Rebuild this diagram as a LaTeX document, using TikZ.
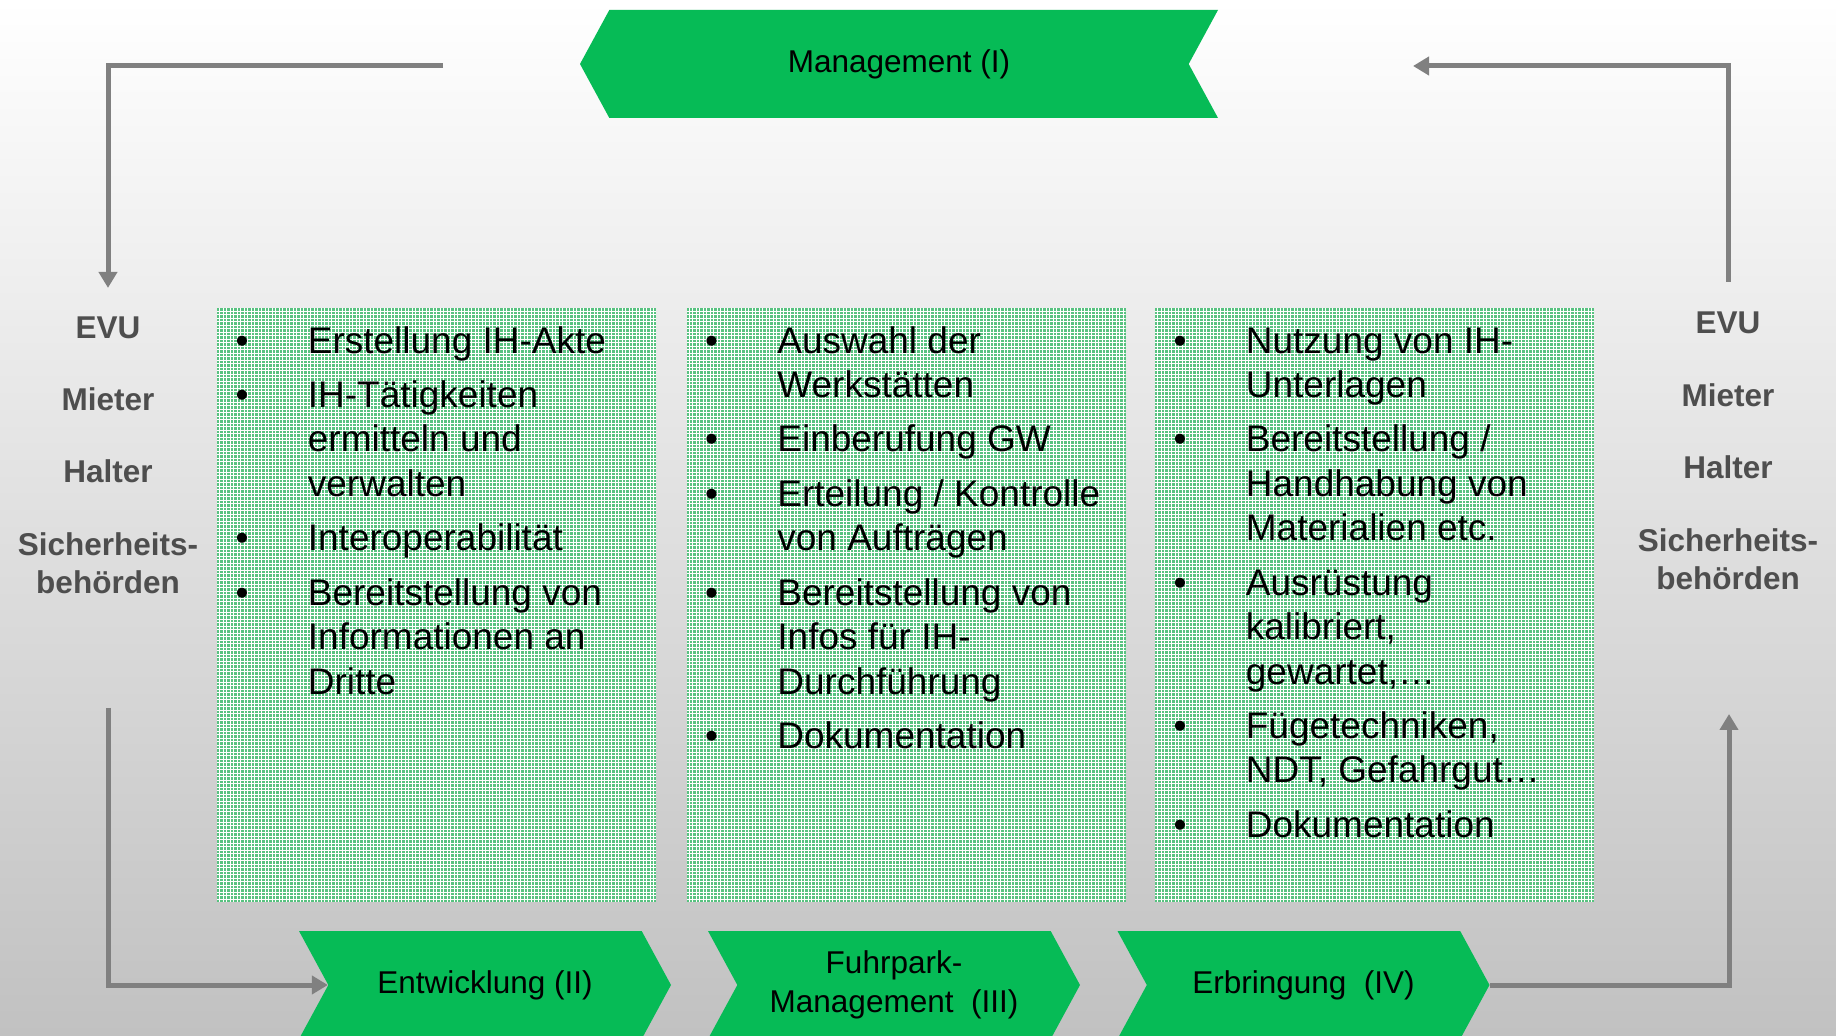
\documentclass[tikz,border=0pt]{standalone}
\usepackage{fontspec}
\setmainfont{Liberation Sans}
\usetikzlibrary{calc,arrows.meta,shapes.symbols,positioning}
\definecolor{chevgreen}{RGB}{6,187,86}
\definecolor{boxgreen}{RGB}{88,194,128}
\definecolor{arrowgray}{RGB}{128,128,128}
\definecolor{labelgray}{RGB}{78,78,78}
\definecolor{bgbottom}{RGB}{193,193,193}
\newcommand{\itemlist}[1]{\begin{tabular}[t]{@{}p{36.2pt}@{}l@{}}#1\end{tabular}}
\tikzset{
chevron/.style={
  signal,
  fill=chevgreen,
  signal pointer angle=123,
  inner sep=0pt,
  minimum height=54pt,
  minimum width=186pt,
  align=center,
  font=\fontsize{15.75pt}{19.5pt}\selectfont},
infobox/.style={
  rectangle,
  fill=boxgreen,
  inner sep=0pt,
  minimum width=219.5pt,
  minimum height=297pt,
  path picture={\draw[white, line width=.3pt, step=1.75pt]
    (path picture bounding box.south west) grid (path picture bounding box.north east);}},
items/.style={
  anchor=base west,
  inner sep=0pt,
  font=\fontsize{18.5pt}{22.2pt}\selectfont},
side/.style={
  text=labelgray,
  align=center,
  inner sep=2pt,
  font=\fontsize{15.75pt}{19pt}\selectfont\bfseries},
flow/.style={draw=arrowgray, line width=2.5pt, -{Triangle[length=8pt,width=9pt]}}
}

\begin{document}
\begin{tikzpicture}[x=0.5pt,y=-0.5pt]
    \useasboundingbox (0,0) rectangle (1836,1036);
    \shade [top color=white, bottom color=bgbottom] (0,0) rectangle (1836,1036);

    \node [chevron, signal to=west, signal from=east, minimum width=319pt] (mgmt) at (899,64) {Management (I)};
    \node [chevron, signal to=east, signal from=west] (ent) at (485,985) {Entwicklung (II)};
    \node [chevron, signal to=east, signal from=west] (fuhr) at (894,985) {Fuhrpark-\\Management \ (III)};
    \node [chevron, signal to=east, signal from=west] (erb) at (1303.5,985) {Erbringung \ (IV)};

    \node [infobox] (box1) at (436.5,605) {};
    \node [infobox] (box2) at (906,605) {};
    \node [infobox] (box3) at (1374.5,605) {};

    \node [items] (list1) at ([shift={(18.5,45.5)}]box1.north west) {\itemlist{%
      \textbullet & Erstellung IH-Akte\\[5.05pt]
      \textbullet & IH-Tätigkeiten\\
                  & ermitteln und\\
                  & verwalten\\[5.05pt]
      \textbullet & Interoperabilität\\[5.05pt]
      \textbullet & Bereitstellung von\\
                  & Informationen an\\
                  & Dritte}};
    \node [items] (list2) at ([shift={(18.5,45.5)}]box2.north west) {\itemlist{%
      \textbullet & Auswahl der\\
                  & Werkstätten\\[5.05pt]
      \textbullet & Einberufung GW\\[5.05pt]
      \textbullet & Erteilung / Kontrolle\\
                  & von Aufträgen\\[5.05pt]
      \textbullet & Bereitstellung von\\
                  & Infos für IH-\\
                  & Durchführung\\[5.05pt]
      \textbullet & Dokumentation}};
    \node [items] (list3) at ([shift={(18.5,45.5)}]box3.north west) {\itemlist{%
      \textbullet & Nutzung von IH-\\
                  & Unterlagen\\[5.05pt]
      \textbullet & Bereitstellung /\\
                  & Handhabung von\\
                  & Materialien etc.\\[5.05pt]
      \textbullet & Ausrüstung\\
                  & kalibriert,\\
                  & gewartet,…\\[5.05pt]
      \textbullet & Fügetechniken,\\
                  & NDT, Gefahrgut…\\[5.05pt]
      \textbullet & Dokumentation}};

    \node [side, anchor=base] (evuL) at (108,339) {EVU};
    \node [side, below=35.75pt of evuL.base, anchor=base] (mieterL) {Mieter};
    \node [side, below=36.25pt of mieterL.base, anchor=base] (halterL) {Halter};
    \node [side, below=55.3pt of halterL.base, anchor=base] (sicherL) {Sicherheits-\\behörden};

    \node [side, anchor=base] (evuR) at (1728,334) {EVU};
    \node [side, below=36.5pt of evuR.base, anchor=base] (mieterR) {Mieter};
    \node [side, below=36pt of mieterR.base, anchor=base] (halterR) {Halter};
    \node [side, below=55.3pt of halterR.base, anchor=base] (sicherR) {Sicherheits-\\behörden};

    \coordinate (mgmtL) at (443,66);
    \coordinate (mgmtR) at (1413,66);
    \coordinate (sideL) at (108,708);
    \coordinate (sideR) at (1729,714);

    \path [flow, shorten >=12.5pt] (mgmtL) -| (evuL);
    \path [flow, shorten <=13pt] (evuR) |- (mgmtR);
    \path [flow] (sideL) |- (ent.west);
    \path [flow] (erb.east) -| (sideR);
\end{tikzpicture}
\end{document}
